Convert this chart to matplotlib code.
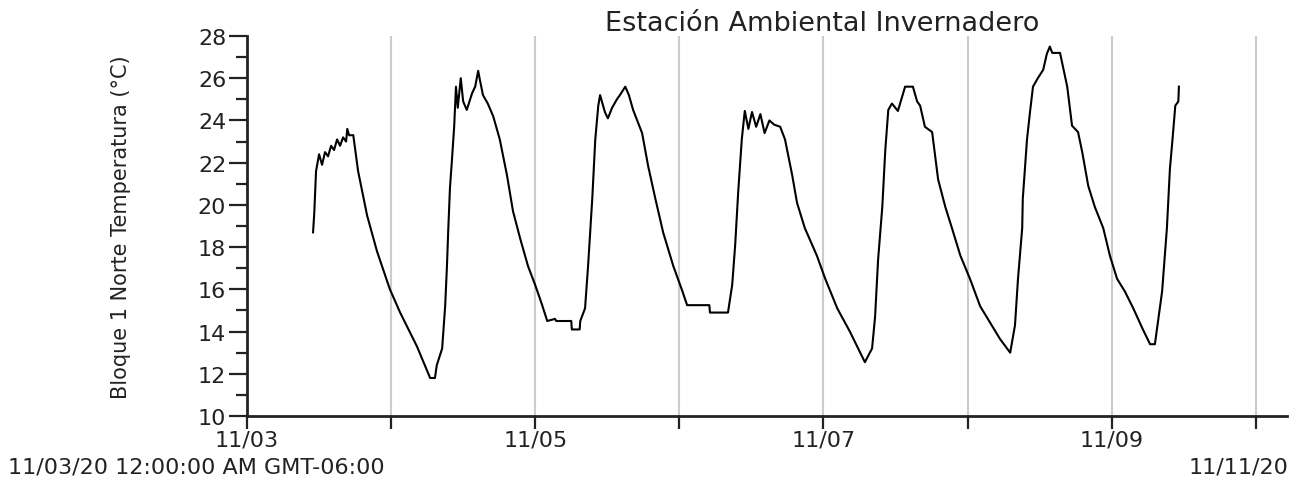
import numpy as np
import matplotlib
matplotlib.use("Agg")
import matplotlib.pyplot as plt
from matplotlib.ticker import MultipleLocator, FixedLocator, FixedFormatter

# hours since 11/03/20 00:00 (GMT-06:00) and temperature (°C)
hours = [
    11.0, 11.2, 11.5, 12.0, 12.5, 13.0, 13.5, 14.0, 14.5, 15.0, 15.5, 16.0, 16.5, 16.7, 17.0, 17.7,
    18.5, 20.0, 21.65, 23.8, 25.5, 28.3, 30.5, 31.3, 31.6, 32.5, 33.0, 33.3, 33.5, 33.8, 34.1,
    34.5, 34.8, 35.1, 35.6, 36.0, 36.6, 37.5, 38.0, 38.5, 38.8, 39.3, 40.1, 41.0, 42.1, 43.3,
    44.3, 45.5, 46.8, 48.0, 49.1, 50.0, 51.3, 51.5, 54.0, 54.1, 55.4, 55.5, 56.3, 56.8, 57.5,
    58.0, 58.5, 58.8, 59.1, 59.6, 60.1, 60.8, 61.6, 62.1, 63.0, 63.6, 64.3, 65.8, 66.8, 68.0,
    69.3, 71.0, 72.4, 73.3, 77.0, 77.1, 80.1, 80.8, 81.3, 81.8, 82.4, 82.9, 83.5, 84.1, 84.8,
    85.5, 86.2, 87.0, 87.8, 88.8, 89.6, 90.8, 91.6, 92.9, 94.9, 96.3, 98.3, 100.4, 101.6,
    102.9, 104.1, 104.6, 105.1, 105.8, 106.3, 106.8, 107.4, 108.4, 109.6, 110.9, 111.6, 112.1,
    112.9, 114.1, 115.1, 116.3, 117.4, 118.8, 120.4, 122.1, 123.7, 125.4, 127.1, 127.9, 128.4,
    129.1, 129.2, 129.9, 130.4, 130.9, 131.7, 132.6, 133.2, 133.7, 134.1, 135.4, 136.6, 137.4,
    138.4, 139.1, 140.1, 141.2, 142.6, 143.7, 144.9, 146.2, 147.6, 149.2, 150.4, 151.2, 151.7,
    152.4, 152.9, 153.2, 153.7, 154.1, 154.6, 155.1, 155.2,
]
temps = [
    18.7, 19.6, 21.6, 22.4, 21.9, 22.5, 22.3, 22.8, 22.6, 23.1, 22.8, 23.2, 23.0, 23.6, 23.3, 23.3,
    21.6, 19.5, 17.8, 16.0, 14.9, 13.3, 11.8, 11.8, 12.4, 13.2, 15.2, 17.1, 18.7, 20.8, 22.0,
    23.7, 25.6, 24.6, 26.0, 24.9, 24.5, 25.3, 25.6, 26.35, 25.9, 25.2, 24.8, 24.2, 23.1, 21.4,
    19.7, 18.4, 17.1, 16.2, 15.3, 14.5, 14.6, 14.5, 14.5, 14.1, 14.1, 14.5, 15.1, 17.1, 20.3,
    23.1, 24.7, 25.2, 24.9, 24.4, 24.1, 24.6, 25.0, 25.2, 25.6, 25.2, 24.5, 23.4, 21.85, 20.3,
    18.7, 17.1, 16.0, 15.25, 15.25, 14.9, 14.9, 16.2, 18.1, 20.6, 23.1, 24.45, 23.6, 24.4, 23.7,
    24.3, 23.4, 24.0, 23.8, 23.7, 23.1, 21.4, 20.1, 18.9, 17.6, 16.5, 15.1, 14.0, 13.3,
    12.55, 13.2, 14.7, 17.4, 19.9, 22.6, 24.5, 24.8, 24.45, 25.6, 25.6, 24.9, 24.7,
    23.7, 23.45, 21.2, 19.9, 18.9, 17.6, 16.5, 15.2, 14.45, 13.65, 13.0, 14.3, 16.5,
    18.9, 20.3, 23.1, 24.4, 25.6, 26.0, 26.4, 27.15, 27.5, 27.2, 27.2, 25.6, 23.75,
    23.45, 22.5, 20.9, 19.9, 18.9, 17.6, 16.5, 15.9, 15.1, 14.1, 13.4, 13.4, 14.45,
    15.9, 17.8, 18.9, 21.7, 23.0, 24.7, 24.9, 25.6,
]

day_ticks = [0, 24, 48, 72, 96, 120, 144, 168]
day_labels = ["11/03", "", "11/05", "", "11/07", "", "11/09", ""]
y_ticks = [10, 12, 14, 16, 18, 20, 22, 24, 26, 28]

title = "Estación Ambiental Invernadero"
y_label = "Bloque 1 Norte Temperatura (°C)"
start_text = "11/03/20 12:00:00 AM GMT-06:00"
end_text = "11/11/20"

fig = plt.figure(figsize=(12.99, 4.85), dpi=100)
ax = fig.add_axes([247 / 1299, 68 / 485, 1040 / 1299, 380 / 485])

# vertical day gridlines
for t in day_ticks[1:]:
    ax.axvline(t, color="#cccccc", lw=1.5, zorder=0)

ax.plot(hours, temps, color="black", lw=1.5)

ax.set_xlim(0, 173.2)
ax.set_ylim(10, 28)
ax.xaxis.set_major_locator(FixedLocator(day_ticks))
ax.xaxis.set_major_formatter(FixedFormatter(day_labels))
ax.set_yticks(y_ticks)
ax.yaxis.set_minor_locator(MultipleLocator(1))

for s in ["top", "right"]:
    ax.spines[s].set_visible(False)
for s in ["left", "bottom"]:
    ax.spines[s].set_linewidth(2)
    ax.spines[s].set_color("#222222")

ax.tick_params(axis="y", which="major", length=13, width=1.6, labelsize=16, pad=2,
               color="#222222", labelcolor="#222222")
ax.tick_params(axis="y", which="minor", length=8, width=1.6, color="#222222")
ax.tick_params(axis="x", which="major", length=9, width=1.6, labelsize=16, pad=1,
               color="#222222", labelcolor="#222222")

ax.set_ylabel(y_label, fontsize=15, labelpad=48, color="#222222")

fig.text(822 / 1299, 1 - 24 / 485, title, fontsize=19.5, ha="center", va="center", color="#222222")
fig.text(8 / 1299, 1 - 468 / 485, start_text, fontsize=16, ha="left", va="center", color="#222222")
fig.text(1288 / 1299, 1 - 468 / 485, end_text, fontsize=16, ha="right", va="center", color="#222222")

fig.savefig("out.png", dpi=100)
